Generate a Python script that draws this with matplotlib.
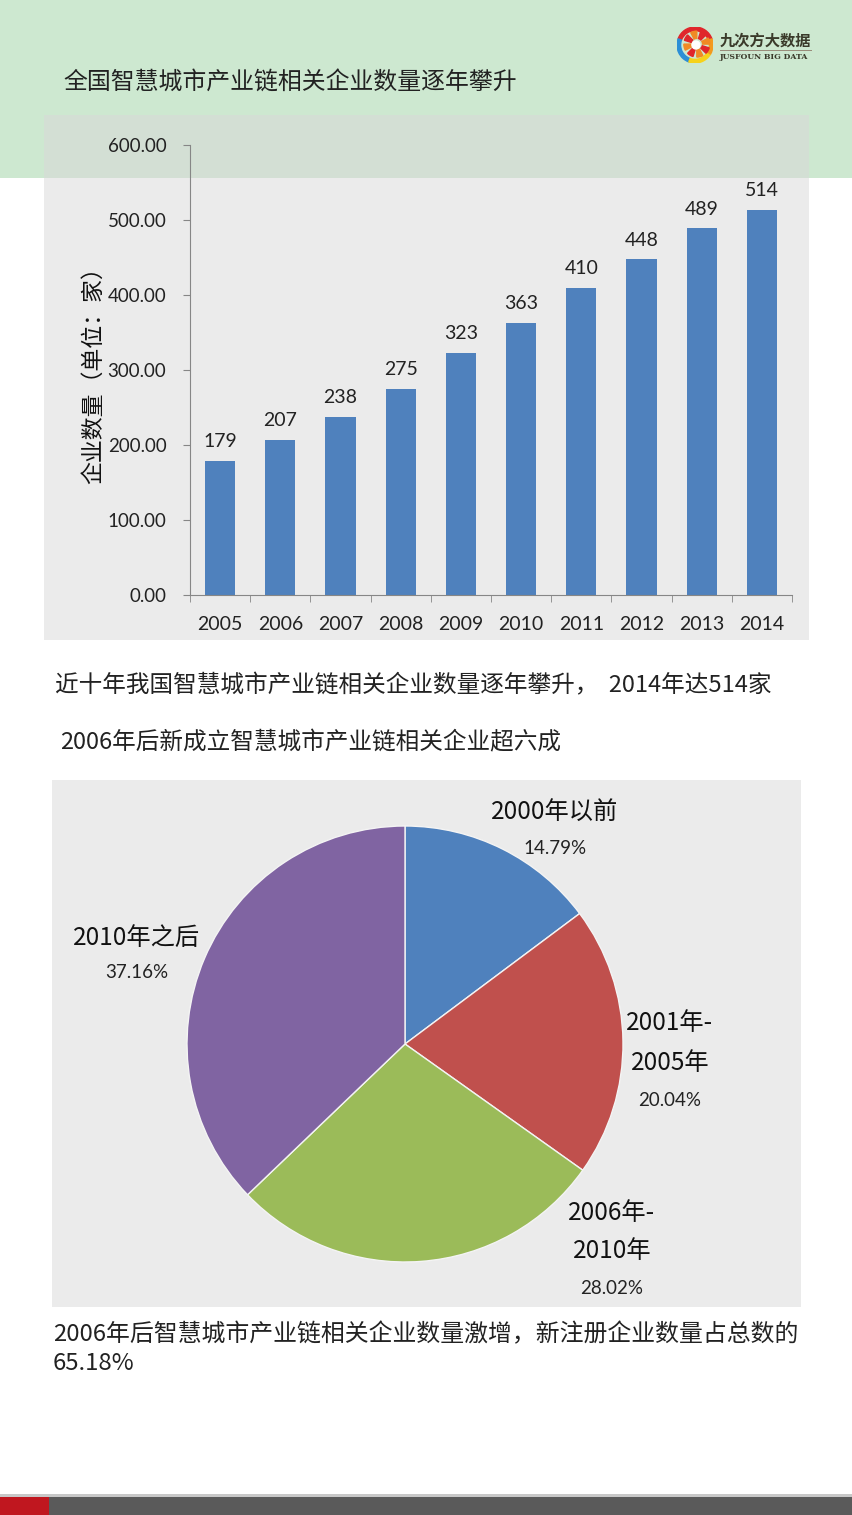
import matplotlib.pyplot as plt
from matplotlib.patches import Rectangle, Circle, Wedge

plt.rcParams['font.family'] = ['Noto Sans CJK SC', 'DejaVu Sans']

years = ["2005", "2006", "2007", "2008", "2009", "2010", "2011", "2012", "2013", "2014"]
counts = [179, 207, 238, 275, 323, 363, 410, 448, 489, 514]

pie_names = ["2000年以前", "2001年-\n2005年", "2006年-\n2010年", "2010年之后"]
pie_shares = [14.79, 20.04, 28.02, 37.16]
pie_colors = ["#4f81bd", "#c0504d", "#9bbb59", "#8064a2"]

W, H = 853, 1515
fig = plt.figure(figsize=(W / 100, H / 100), dpi=100)
fig.patch.set_facecolor("white")


def box(x0, y0, x1, y1):
    # pixel box (top-left origin) -> figure fraction [l, b, w, h]
    return [x0 / W, 1 - y1 / H, (x1 - x0) / W, (y1 - y0) / H]


def rect(x0, y0, x1, y1, color, z=-5):
    l, b, w, h = box(x0, y0, x1, y1)
    fig.patches.append(Rectangle((l, b), w, h, transform=fig.transFigure,
                                 facecolor=color, edgecolor="none", zorder=z))


# background blocks
rect(0, 0, W, 178, "#cde8d0")
rect(44, 115, 809, 640, "#ebebeb")
rect(44, 115, 809, 178, "#d3dfd4", z=-4)
rect(52, 780, 801, 1307, "#ebebeb")
rect(0, 1494, W, 1497, "#c8c8c8")
rect(0, 1497, W, H, "#5a5a5a")
rect(0, 1497, 49, H, "#c0171f", z=-4)

# logo
lax = fig.add_axes(box(677, 27, 713, 63))
lax.set_xlim(-1, 1)
lax.set_ylim(-1, 1)
lax.set_aspect("equal")
lax.axis("off")
ring = [("#e0262b", 20, 160), ("#2b8fd6", 160, 250), ("#f6d21a", 250, 330), ("#f39a1e", 330, 380)]
for c, a0, a1 in ring:
    lax.add_patch(Wedge((0, 0), 1, a0, a1, width=0.2, color=c))
for k in range(8):
    lax.add_patch(Wedge((0.1, 0.05), 0.72, k * 45, k * 45 + 28, width=0.4,
                        color="#e0262b" if k % 2 else "#f08a24"))
lax.add_patch(Circle((0.05, 0.0), 0.22, color="white"))
fig.text(720 / W, 1 - 41 / H, "九次方大数据", fontsize=11, fontweight="bold",
         color="#3a3a2a", va="center", ha="left")
fig.text(720 / W, 1 - 57 / H, "JUSFOUN BIG DATA", fontsize=5.6, fontweight="bold",
         family="DejaVu Serif", color="#3a3a2a", va="center", ha="left")
rect(720, 50, 812, 51, "#9a8c7a", z=1)

fig.text(63 / W, 1 - 83 / H, "全国智慧城市产业链相关企业数量逐年攀升", fontsize=17.2,
         color="#222222", va="center", ha="left")

# bar chart
ax = fig.add_axes(box(190, 145, 792, 595))
ax.set_facecolor("none")
x = range(len(years))
ax.bar(x, counts, width=0.5, color="#4f81bd", zorder=2)
for xi, v in zip(x, counts):
    ax.text(xi, v + 14, str(v), ha="center", va="bottom", fontsize=14,
            family="Lato", color="#222222")
ax.set_xlim(-0.5, len(years) - 0.5)
ax.set_ylim(0, 600)
ax.set_yticks([0, 100, 200, 300, 400, 500, 600])
ax.set_yticklabels(["%.2f" % t for t in [0, 100, 200, 300, 400, 500, 600]],
                   family="Lato", fontsize=13.5, color="#222222")
ax.set_xticks(list(x))
ax.set_xticklabels(years, family="Lato", fontsize=14, color="#222222")
ax.set_xticks([i - 0.5 for i in range(len(years) + 1)], minor=True)
ax.tick_params(axis="x", which="major", length=0, pad=15)
ax.tick_params(axis="x", which="minor", length=5, direction="out", color="#868686")
ax.tick_params(axis="y", length=5, direction="out", color="#868686", pad=12)
for s in ["top", "right"]:
    ax.spines[s].set_visible(False)
for s in ["left", "bottom"]:
    ax.spines[s].set_color("#868686")
ax.set_ylabel("企业数量（单位：家）", fontsize=16.5, color="#111111", labelpad=2)

fig.text(55 / W, 1 - 686 / H, "近十年我国智慧城市产业链相关企业数量逐年攀升，  2014年达514家",
         fontsize=17, color="#222222", va="center", ha="left")
fig.text(60 / W, 1 - 743 / H, "2006年后新成立智慧城市产业链相关企业超六成",
         fontsize=17, color="#222222", va="center", ha="left")

# pie chart
cx, cy, r = 405, 1044, 218
pax = fig.add_axes(box(cx - r, cy - r, cx + r, cy + r))
pax.pie(pie_shares, colors=pie_colors, startangle=90, counterclock=False,
        radius=1, wedgeprops=dict(edgecolor="#f4f4f4", linewidth=1))
pax.set_xlim(-1, 1)
pax.set_ylim(-1, 1)
pax.set_aspect("equal")
pax.axis("off")

label_px = [(555, 812, 848), (670, 1043, 1100), (612, 1232, 1288), (137, 938, 973)]
for name, share, (px, py, qy) in zip(pie_names, pie_shares, label_px):
    pax.text((px - cx) / r, (cy - py) / r, name, fontsize=17.5, ha="center",
             va="center", color="#111111", linespacing=1.65, clip_on=False)
    pax.text((px - cx) / r, (cy - qy) / r, "%.2f%%" % share, fontsize=13.5,
             family="Lato", ha="center", va="center", color="#222222", clip_on=False)

fig.text(53 / W, 1 - 1335 / H, "2006年后智慧城市产业链相关企业数量激增，新注册企业数量占总数的",
         fontsize=17.2, color="#222222", va="center", ha="left")
fig.text(53 / W, 1 - 1364 / H, "65.18%", fontsize=17.2, color="#222222",
         va="center", ha="left")

fig.savefig("out.png", dpi=100)
